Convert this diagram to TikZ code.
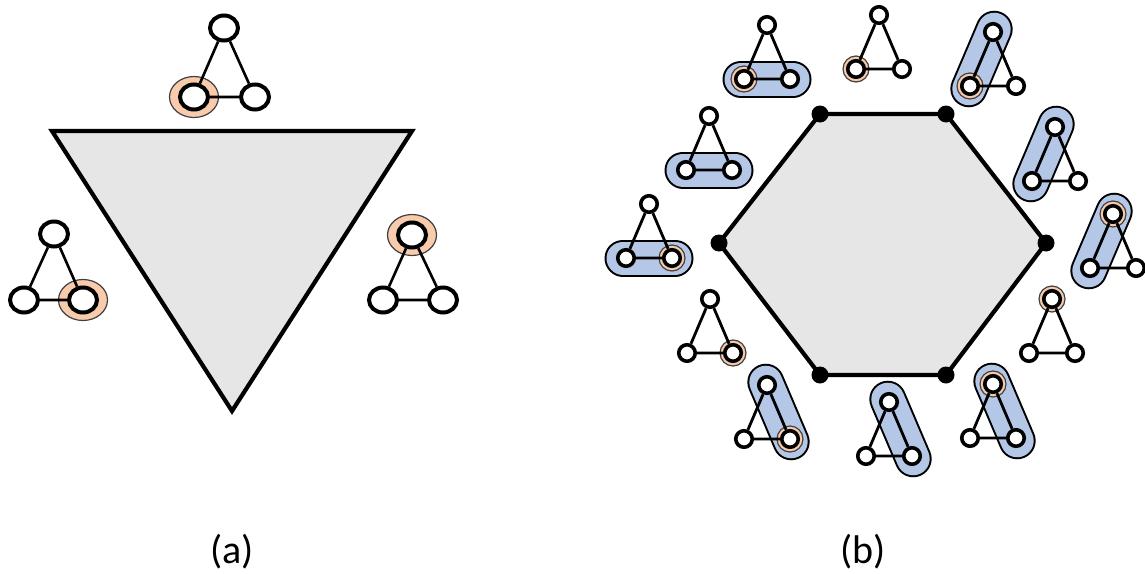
\documentclass[tikz,border=0pt]{standalone}
\usepackage{fontspec}
\setmainfont{Carlito}
\usetikzlibrary{shapes.geometric,calc}
\definecolor{hexgray}{HTML}{E6E6E6}
\definecolor{peach}{HTML}{F8CBAD}
\definecolor{pillblue}{HTML}{B4C7E7}
\pgfdeclarelayer{pilllayer}
\pgfdeclarelayer{ringlayer}
\pgfsetlayers{pilllayer,ringlayer,main}
\tikzset{
 bigv/.style={ellipse, draw, line width=4pt, fill=white, minimum width=28pt, minimum height=25pt, inner sep=0pt},
 smv/.style={circle, draw, line width=3.6pt, fill=white, minimum size=16.5pt, inner sep=0pt},
 bigring/.style={ellipse, draw=black!75, line width=1.2pt, fill=peach, minimum width=49pt, minimum height=41pt, inner sep=0pt},
 smring/.style={circle, draw=black!75, line width=1.2pt, fill=peach, minimum size=26pt, inner sep=0pt},
 bigedge/.style={line width=2.6pt},
 smedge/.style={line width=2.8pt},
 pill/.style={draw=black, line width=2pt, double=pillblue, double distance=33pt, line cap=round},
 region/.style={draw=black, line width=4.2pt, fill=hexgray, line join=miter},
 corner/.style={circle, fill=black, minimum size=17pt, inner sep=0pt},
 caption/.style={font=\fontsize{40}{44}\selectfont, inner sep=0pt}
}
\newcommand\smgraph[3]{%
 \node[smv] (#1l) at (#2,#3) {};
 \node[smv] (#1r) at (#2+46,#3) {};
 \node[smv] (#1t) at (#2+23,#3-54) {};
 \draw[smedge] (#1t) -- (#1l) (#1t) -- (#1r) (#1l) -- (#1r);}
\newcommand\smring[1]{\begin{pgfonlayer}{ringlayer}\node[smring] (#1o) at (#1) {};\end{pgfonlayer}}
\newcommand\bigring[1]{\begin{pgfonlayer}{ringlayer}\node[bigring] (#1o) at (#1) {};\end{pgfonlayer}}
\newcommand\pillb[2]{\begin{pgfonlayer}{pilllayer}\draw[pill] ($(#1)!-3pt!(#2)$) -- ($(#2)!-3pt!(#1)$);\end{pgfonlayer}}
\begin{document}
\begin{tikzpicture}[x=1pt,y=-1pt]
\useasboundingbox (0,0) rectangle (1145,573);
% ---------- (a) ----------
\coordinate (A1) at (52,131);
\coordinate (A2) at (412,131);
\coordinate (A3) at (232,411);
\draw[region] (A1) -- (A2) -- (A3) -- cycle;
% top graph
\node[bigv] (atl) at (194,97) {};
\node[bigv] (atr) at (255,97) {};
\node[bigv] (att) at (224,28) {};
\draw[bigedge] (att) -- (atl) (att) -- (atr) (atl) -- (atr);
\bigring{atl}
% left graph
\node[bigv] (all) at (24,300) {};
\node[bigv] (alr) at (83,300) {};
\node[bigv] (alt) at (54,234) {};
\draw[bigedge] (alt) -- (all) (alt) -- (alr) (all) -- (alr);
\bigring{alr}
% right graph
\node[bigv] (arl) at (383,300) {};
\node[bigv] (arr) at (443,300) {};
\node[bigv] (art) at (412,235) {};
\draw[bigedge] (art) -- (arl) (art) -- (arr) (arl) -- (arr);
\bigring{art}
% ---------- (b) ----------
\coordinate (h1) at (820,114);
\coordinate (h2) at (946,114);
\coordinate (h3) at (1046,243);
\coordinate (h4) at (946,375);
\coordinate (h5) at (820,375);
\coordinate (h6) at (719,243);
\draw[region] (h1) -- (h2) -- (h3) -- (h4) -- (h5) -- (h6) -- cycle;
\foreach \i in {1,...,6} \node[corner] (d\i) at (h\i) {};
\smgraph{ga}{744}{79}   \pillb{gal}{gar} \smring{gal}
\smgraph{gb}{686}{170}  \pillb{gbl}{gbr}
\smgraph{gc}{856}{69}   \smring{gcl}
\smgraph{gd}{970}{86}   \pillb{gdt}{gdl} \smring{gdl}
\smgraph{ge}{1032}{181} \pillb{get}{gel}
\smgraph{gf}{1090}{268} \pillb{gft}{gfl} \smring{gft}
\smgraph{gg}{1029}{353} \smring{ggt}
\smgraph{gh}{970}{438}  \pillb{ght}{ghr} \smring{ght}
\smgraph{gi}{866}{456}  \pillb{git}{gir}
\smgraph{gj}{744}{439}  \pillb{gjt}{gjr} \smring{gjr}
\smgraph{gk}{687}{353}  \smring{gkr}
\smgraph{gm}{626}{258}  \pillb{gml}{gmr} \smring{gmr}
% captions
\node[caption] (capa) at (232,552) {(a)};
\node[caption] (capb) at (863,552) {(b)};
\end{tikzpicture}
\end{document}
